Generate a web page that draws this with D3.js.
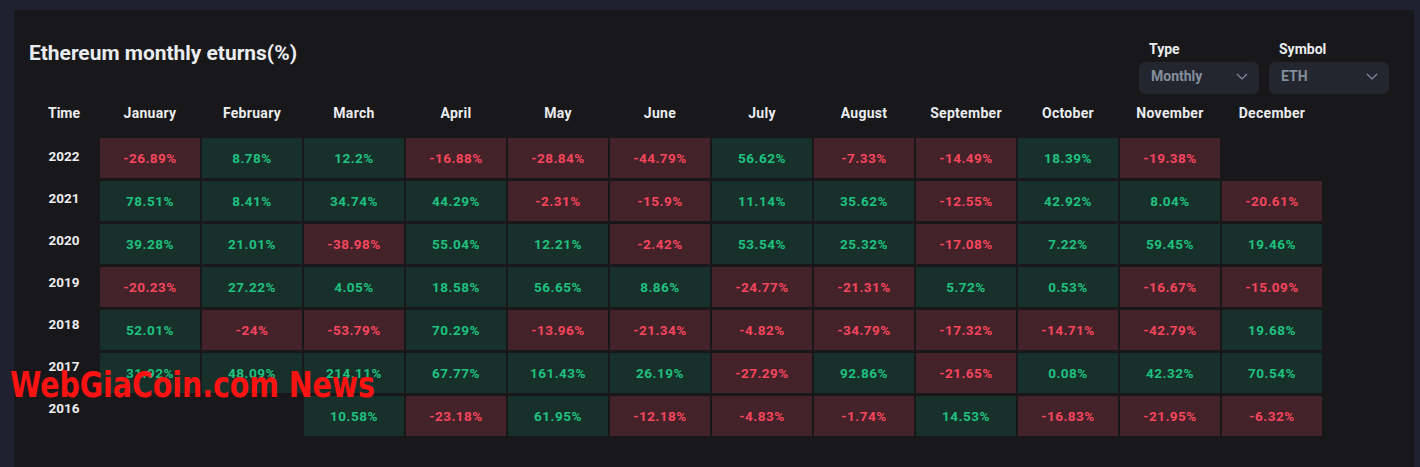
<!DOCTYPE html>
<html>
<head>
<meta charset="utf-8">
<script src="https://cdn.jsdelivr.net/npm/d3@7"></script>
<style>
  html, body { margin: 0; padding: 0; background: #1f2130; }
  svg { display: block; }
</style>
</head>
<body>
<div id="chart"></div>
<script>
const months = ["January","February","March","April","May","June","July","August","September","October","November","December"];
const years = ["2022","2021","2020","2019","2018","2017","2016"];
const r2022 = [-26.89, 8.78, 12.2, -16.88, -28.84, -44.79, 56.62, -7.33, -14.49, 18.39, -19.38, null];
const r2021 = [78.51, 8.41, 34.74, 44.29, -2.31, -15.9, 11.14, 35.62, -12.55, 42.92, 8.04, -20.61];
const r2020 = [39.28, 21.01, -38.98, 55.04, 12.21, -2.42, 53.54, 25.32, -17.08, 7.22, 59.45, 19.46];
const r2019 = [-20.23, 27.22, 4.05, 18.58, 56.65, 8.86, -24.77, -21.31, 5.72, 0.53, -16.67, -15.09];
const r2018 = [52.01, -24, -53.79, 70.29, -13.96, -21.34, -4.82, -34.79, -17.32, -14.71, -42.79, 19.68];
const r2017 = [31.92, 48.09, 214.11, 67.77, 161.43, 26.19, -27.29, 92.86, -21.65, 0.08, 42.32, 70.54];
const r2016 = [null, null, 10.58, -23.18, 61.95, -12.18, -4.83, -1.74, 14.53, -16.83, -21.95, -6.32];
const rows = [r2022, r2021, r2020, r2019, r2018, r2017, r2016];

const title = "Ethereum monthly eturns(%)";
const typeLabel = "Type", typeValue = "Monthly";
const symbolLabel = "Symbol", symbolValue = "ETH";
const watermark = "WebGiaCoin.com News";

const W = 1420, H = 467;
const svg = d3.select("#chart").append("svg").attr("width", W).attr("height", H);
const font = "Roboto, 'Noto Sans', sans-serif";

svg.append("rect").attr("width", W).attr("height", H).attr("fill", "#1f2130");
svg.append("rect").attr("x", 14).attr("y", 10).attr("width", 1400).attr("height", H - 10).attr("fill", "#18181a");

svg.append("text").attr("x", 29).attr("y", 60).text(title)
  .attr("fill", "#eaecef").attr("font-family", font).attr("font-weight", 700)
  .attr("font-size", 20).attr("textLength", 268).attr("lengthAdjust", "spacingAndGlyphs");

// dropdowns
const dd = [
  {label: typeLabel, value: typeValue, x: 1139},
  {label: symbolLabel, value: symbolValue, x: 1269}
];
const g = svg.append("g").selectAll("g").data(dd).join("g");
g.append("text").attr("x", d => d.x + 10).attr("y", 54).text(d => d.label)
  .attr("fill", "#eaecef").attr("font-family", font).attr("font-weight", 700).attr("font-size", 14);
g.append("rect").attr("x", d => d.x).attr("y", 62).attr("width", 120).attr("height", 32).attr("rx", 6)
  .attr("fill", "#23252f");
g.append("text").attr("x", d => d.x + 12).attr("y", 81).text(d => d.value)
  .attr("fill", "#848e9c").attr("font-family", font).attr("font-weight", 700).attr("font-size", 14);
g.append("path").attr("d", d => `M${d.x + 98},${74}L${d.x + 103},${79}L${d.x + 108},${74}`)
  .attr("fill", "none").attr("stroke", "#848e9c").attr("stroke-width", 1.2);

// scales
const x = d3.scaleBand().domain(months).range([100, 1322]).paddingInner(2 / 102);
const y = d3.scaleBand().domain(years).range([138, 436]).paddingInner(3 / 43);
const yLabel = d3.scalePoint().domain(years).range([156, 408]);

// header
svg.append("text").attr("x", 64).attr("y", 118).attr("text-anchor", "middle").text("Time")
  .attr("fill", "#eaecef").attr("font-family", font).attr("font-weight", 700).attr("font-size", 14);
svg.append("g").selectAll("text").data(months).join("text")
  .attr("x", d => x(d) + x.bandwidth() / 2).attr("y", 118).attr("text-anchor", "middle").text(d => d)
  .attr("fill", "#eaecef").attr("font-family", font).attr("font-weight", 700).attr("font-size", 14)
  .attr("letter-spacing", 0.3);

svg.append("g").selectAll("text").data(years).join("text")
  .attr("x", 64).attr("y", d => yLabel(d) + 5).attr("text-anchor", "middle").text(d => d)
  .attr("fill", "#eaecef").attr("font-family", font).attr("font-weight", 700).attr("font-size", 13.5);

const cells = [];
rows.forEach((r, i) => r.forEach((v, j) => { if (v !== null) cells.push({year: years[i], month: months[j], v}); }));

const cg = svg.append("g").selectAll("g").data(cells).join("g");
cg.append("rect").attr("x", d => x(d.month)).attr("y", d => y(d.year))
  .attr("width", x.bandwidth()).attr("height", y.bandwidth())
  .attr("fill", d => d.v < 0 ? "#44222a" : "#17302a");
cg.append("text").attr("x", d => x(d.month) + x.bandwidth() / 2).attr("y", d => y(d.year) + y.bandwidth() / 2 + 5)
  .attr("text-anchor", "middle").text(d => d.v + "%")
  .attr("fill", d => d.v < 0 ? "#f6465d" : "#1fc17f").attr("font-family", font).attr("font-weight", 700)
  .attr("font-size", 13.5).attr("letter-spacing", 0.5);

svg.append("text").attr("x", 10).attr("y", 397).text(watermark)
  .attr("fill", "#ff1212").attr("font-family", "'DejaVu Sans Condensed', 'DejaVu Sans', sans-serif")
  .attr("font-weight", 700).attr("font-size", 35).attr("textLength", 365).attr("lengthAdjust", "spacingAndGlyphs");
</script>
</body>
</html>
